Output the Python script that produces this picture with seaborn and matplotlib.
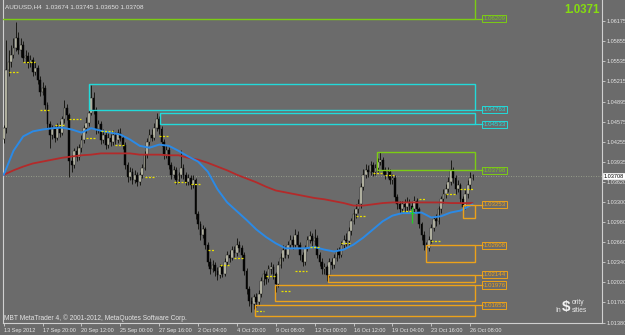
import matplotlib
matplotlib.use('Agg')
import matplotlib.pyplot as plt
from matplotlib.patches import Rectangle
import seaborn as sns
import numpy as np

sns.set_style('dark')
plt.rcParams['font.family'] = ['Liberation Sans', 'DejaVu Sans']

# ---------------- data ----------------
symbol_title = "AUDUSD,H4  1.03674 1.03745 1.03650 1.03708"
first_open = 1.0430
closes = [
    1.0447, 1.0540, 1.0553, 1.0564, 1.0575, 1.0591, 1.0572, 1.0580, 1.0559, 1.0562,
    1.0550, 1.0556, 1.0537, 1.0543, 1.0524, 1.0505, 1.0511, 1.0484, 1.0453, 1.0437,
    1.0445, 1.0432, 1.0447, 1.0440, 1.0461, 1.0479, 1.0468, 1.0395, 1.0389, 1.0411,
    1.0401, 1.0416, 1.0429, 1.0447, 1.0456, 1.0472, 1.0495, 1.0476, 1.0445, 1.0453,
    1.0429, 1.0437, 1.0421, 1.0432, 1.0425, 1.0437, 1.0429, 1.0440, 1.0432, 1.0421,
    1.0389, 1.0369, 1.0378, 1.0365, 1.0373, 1.0362, 1.0372, 1.0384, 1.0405, 1.0425,
    1.0437, 1.0432, 1.0447, 1.0461, 1.0445, 1.0425, 1.0405, 1.0413, 1.0389, 1.0373,
    1.0381, 1.0365, 1.0372, 1.0384, 1.0373, 1.0362, 1.0368, 1.0357, 1.0365, 1.0310,
    1.0294, 1.0278, 1.0286, 1.0262, 1.0235, 1.0223, 1.0230, 1.0220, 1.0213, 1.0226,
    1.0216, 1.0235, 1.0246, 1.0241, 1.0254, 1.0248, 1.0262, 1.0257, 1.0246, 1.0220,
    1.0191, 1.0172, 1.0167, 1.0178, 1.0170, 1.0183, 1.0204, 1.0215, 1.0207, 1.0223,
    1.0226, 1.0215, 1.0199, 1.0230, 1.0241, 1.0254, 1.0246, 1.0262, 1.0270, 1.0262,
    1.0278, 1.0262, 1.0246, 1.0235, 1.0257, 1.0270, 1.0276, 1.0267, 1.0273, 1.0246,
    1.0235, 1.0223, 1.0226, 1.0213, 1.0235, 1.0230, 1.0241, 1.0251, 1.0246, 1.0262,
    1.0270, 1.0267, 1.0283, 1.0299, 1.0310, 1.0318, 1.0326, 1.0353, 1.0373, 1.0381,
    1.0378, 1.0389, 1.0378, 1.0384, 1.0394, 1.0397, 1.0381, 1.0373, 1.0378, 1.0365,
    1.0368, 1.0337, 1.0326, 1.0318, 1.0326, 1.0321, 1.0329, 1.0323, 1.0318, 1.0331,
    1.0318, 1.0294, 1.0278, 1.0262, 1.0257, 1.0270, 1.0289, 1.0302, 1.0299, 1.0318,
    1.0334, 1.0342, 1.0350, 1.0362, 1.0381, 1.0368, 1.0350, 1.0357, 1.0334, 1.0321,
    1.0342, 1.0357, 1.03674, 1.03708,
]
highs = [
    1.0452, 1.0588, 1.0572, 1.0580, 1.0590, 1.0616, 1.0600, 1.0590, 1.0586, 1.0571,
    1.0568, 1.0563, 1.0560, 1.0552, 1.0548, 1.0530, 1.0520, 1.0515, 1.0488, 1.0458,
    1.0452, 1.0450, 1.0455, 1.0458, 1.0466, 1.0492, 1.0485, 1.0472, 1.0405, 1.0416,
    1.0418, 1.0422, 1.0436, 1.0452, 1.0465, 1.0480, 1.0516, 1.0505, 1.0480, 1.0460,
    1.0458, 1.0445, 1.0442, 1.0440, 1.0438, 1.0444, 1.0441, 1.0446, 1.0448, 1.0437,
    1.0425, 1.0394, 1.0386, 1.0383, 1.0380, 1.0378, 1.0378, 1.0390, 1.0411, 1.0432,
    1.0445, 1.0446, 1.0455, 1.0472, 1.0466, 1.0450, 1.0430, 1.0420, 1.0417, 1.0394,
    1.0387, 1.0385, 1.0378, 1.0412, 1.0390, 1.0378, 1.0375, 1.0372, 1.0372, 1.0368,
    1.0315, 1.0299, 1.0293, 1.0290, 1.0266, 1.0240, 1.0237, 1.0234, 1.0226, 1.0231,
    1.0230, 1.0240, 1.0252, 1.0253, 1.0260, 1.0260, 1.0272, 1.0268, 1.0262, 1.0250,
    1.0225, 1.0196, 1.0178, 1.0184, 1.0185, 1.0189, 1.0210, 1.0222, 1.0220, 1.0230,
    1.0234, 1.0231, 1.0219, 1.0236, 1.0248, 1.0262, 1.0260, 1.0268, 1.0278, 1.0275,
    1.0287, 1.0283, 1.0266, 1.0250, 1.0262, 1.0276, 1.0283, 1.0280, 1.0287, 1.0277,
    1.0250, 1.0240, 1.0232, 1.0230, 1.0240, 1.0241, 1.0247, 1.0257, 1.0258, 1.0268,
    1.0277, 1.0280, 1.0290, 1.0305, 1.0318, 1.0326, 1.0335, 1.0360, 1.0382, 1.0390,
    1.0388, 1.0395, 1.0394, 1.0390, 1.0400, 1.0410, 1.0402, 1.0386, 1.0385, 1.0382,
    1.0375, 1.0372, 1.0342, 1.0332, 1.0332, 1.0334, 1.0338, 1.0335, 1.0330, 1.0340,
    1.0336, 1.0322, 1.0298, 1.0283, 1.0266, 1.0276, 1.0295, 1.0308, 1.0310, 1.0324,
    1.0340, 1.0350, 1.0358, 1.0370, 1.0397, 1.0386, 1.0372, 1.0365, 1.0360, 1.0340,
    1.0348, 1.0365, 1.0378, 1.03745,
]
lows = [
    1.0424, 1.0440, 1.0530, 1.0545, 1.0558, 1.0570, 1.0565, 1.0560, 1.0552, 1.0550,
    1.0543, 1.0545, 1.0530, 1.0531, 1.0518, 1.0498, 1.0500, 1.0478, 1.0445, 1.0415,
    1.0430, 1.0425, 1.0428, 1.0433, 1.0436, 1.0455, 1.0460, 1.0370, 1.0378, 1.0384,
    1.0395, 1.0396, 1.0410, 1.0424, 1.0440, 1.0450, 1.0468, 1.0470, 1.0438, 1.0440,
    1.0422, 1.0424, 1.0414, 1.0416, 1.0418, 1.0420, 1.0422, 1.0424, 1.0426, 1.0414,
    1.0382, 1.0362, 1.0364, 1.0358, 1.0360, 1.0355, 1.0357, 1.0368, 1.0380, 1.0400,
    1.0420, 1.0426, 1.0428, 1.0442, 1.0438, 1.0418, 1.0398, 1.0400, 1.0382, 1.0366,
    1.0368, 1.0358, 1.0360, 1.0368, 1.0366, 1.0356, 1.0357, 1.0350, 1.0352, 1.0302,
    1.0286, 1.0270, 1.0272, 1.0255, 1.0228, 1.0216, 1.0218, 1.0212, 1.0206, 1.0209,
    1.0210, 1.0212, 1.0230, 1.0235, 1.0237, 1.0242, 1.0244, 1.0250, 1.0240, 1.0214,
    1.0184, 1.0165, 1.0154, 1.0160, 1.0163, 1.0166, 1.0178, 1.0198, 1.0200, 1.0203,
    1.0216, 1.0208, 1.0186, 1.0195, 1.0225, 1.0236, 1.0240, 1.0241, 1.0256, 1.0255,
    1.0258, 1.0256, 1.0238, 1.0228, 1.0230, 1.0252, 1.0264, 1.0260, 1.0262, 1.0240,
    1.0228, 1.0216, 1.0215, 1.0204, 1.0210, 1.0223, 1.0225, 1.0236, 1.0240, 1.0242,
    1.0256, 1.0260, 1.0262, 1.0278, 1.0294, 1.0305, 1.0312, 1.0320, 1.0348, 1.0368,
    1.0370, 1.0372, 1.0371, 1.0372, 1.0378, 1.0388, 1.0375, 1.0366, 1.0368, 1.0358,
    1.0358, 1.0330, 1.0318, 1.0312, 1.0313, 1.0315, 1.0316, 1.0317, 1.0311, 1.0314,
    1.0312, 1.0288, 1.0270, 1.0254, 1.0251, 1.0252, 1.0265, 1.0284, 1.0292, 1.0295,
    1.0312, 1.0328, 1.0336, 1.0345, 1.0356, 1.0360, 1.0342, 1.0345, 1.0328, 1.0312,
    1.0318, 1.0336, 1.0350, 1.03650,
]

ma_bars = [0, 4, 8, 12, 16, 20, 24, 28, 32, 36, 40, 44, 48, 52, 56, 60, 64, 68, 72, 76,
           80, 84, 88, 92, 96, 100, 104, 108, 112, 116, 120, 124, 128, 132, 136, 140,
           144, 148, 152, 156, 160, 164, 168, 172, 176, 180, 184, 188, 192, 193]
ma_fast = [1.0373, 1.0411, 1.0434, 1.0442, 1.0445, 1.0447, 1.0448, 1.0445, 1.0440, 1.0447,
           1.0443, 1.0440, 1.0437, 1.0429, 1.0419, 1.0416, 1.0421, 1.0419, 1.0411, 1.0402,
           1.0394, 1.0378, 1.0350, 1.0329, 1.0315, 1.0301, 1.0286, 1.0274, 1.0264, 1.0256,
           1.0256, 1.0256, 1.0258, 1.0254, 1.0251, 1.0254, 1.0262, 1.0273, 1.0286, 1.0299,
           1.0308, 1.0312, 1.0312, 1.0313, 1.0305, 1.0307, 1.0313, 1.0316, 1.0324, 1.0326]
ma_slow = [1.0373, 1.0380, 1.0386, 1.0391, 1.0394, 1.0397, 1.0400, 1.0402, 1.0404, 1.0405,
           1.0407, 1.0407, 1.0407, 1.0407, 1.0405, 1.0405, 1.0405, 1.0404, 1.0404, 1.0400,
           1.0397, 1.0392, 1.0386, 1.0380, 1.0373, 1.0367, 1.0361, 1.0354, 1.0348, 1.0345,
           1.0342, 1.0339, 1.0336, 1.0334, 1.0331, 1.0328, 1.0324, 1.0324, 1.0326, 1.0328,
           1.0329, 1.0329, 1.0329, 1.0329, 1.0329, 1.0329, 1.0328, 1.0328, 1.0328, 1.0328]

# pivot marks (yellow dashes): start bar, end bar, price
mark_start = [2, 8, 15, 21, 27, 34, 40, 46, 58, 64, 70, 77, 84, 89, 95, 104, 108, 114,
              120, 126, 139, 145, 152, 157, 164, 171, 176, 182, 188]
mark_end = [6, 13, 19, 25, 32, 38, 45, 50, 62, 68, 75, 81, 87, 93, 99, 107, 112, 118,
            125, 130, 143, 149, 156, 161, 168, 174, 180, 186, 193]
mark_price = [1.0537, 1.0553, 1.0476, 1.0452, 1.0461, 1.0432, 1.0443, 1.0421, 1.0370,
              1.0435, 1.0362, 1.0359, 1.0254, 1.0230, 1.0241, 1.0156, 1.0212, 1.0188,
              1.0220, 1.0258, 1.0264, 1.0307, 1.0376, 1.0373, 1.0315, 1.0334, 1.0267,
              1.0342, 1.0350]

# supply / demand zones
zone_start = [-5, 35.2, 64.4, 153.7, 189.1, 173.9, 133.5, 111.7, 103.5]
zone_level = [1.06209, 1.04763, 1.04533, 1.03798, 1.03253, 1.02608, 1.02144, 1.01976, 1.01653]
zone_far = [1.0700, 1.0517, 1.0472, 1.0410, 1.0305, 1.0235, 1.0202, 1.0173, 1.0148]
zone_kind = ['green', 'cyan', 'cyan', 'green', 'orange', 'orange', 'orange', 'orange', 'orange']
zone_end = 194.0

signal_bar = 168
signal_low, signal_high, signal_mid = 1.0297, 1.0322, 1.0312

bid_price = 1.03708
big_price_text = "1.0371"

date_ticks = [0, 16, 32, 48, 64, 80, 96, 112, 128, 144, 160, 176, 192]
date_labels = ["13 Sep 2012", "17 Sep 20:00", "20 Sep 12:00", "25 Sep 00:00", "27 Sep 16:00",
               "2 Oct 04:00", "4 Oct 20:00", "9 Oct 08:00", "12 Oct 00:00", "16 Oct 12:00",
               "19 Oct 04:00", "23 Oct 16:00", "26 Oct 08:00"]
price_ticks = [1.06175, 1.05855, 1.05535, 1.05215, 1.04895, 1.04575, 1.04255, 1.03935,
               1.03620, 1.03300, 1.02980, 1.02660, 1.02340, 1.02020, 1.01700, 1.01380]
footer = "MBT MetaTrader 4, \u00a9 2001-2012, MetaQuotes Software Corp."

# ---------------- style ----------------
BG = '#6b6b6b'
TXT = '#e4e4e4'
AX = '#d0d0d0'
COL = {'green': '#7ccc14', 'cyan': '#22dada', 'orange': '#eca21a'}
FS = 4.6
FS_AX = 4.0

fig = plt.figure(figsize=(6.25, 3.35), dpi=100, facecolor=BG)
ax = fig.add_axes([3 / 625, 12 / 335, 599 / 625, 323 / 335])
ax.set_facecolor(BG)
ax.set_xlim(-0.3, 246.3)
ax.set_ylim(1.01373, 1.06509)

# candles
o = np.array([first_open] + closes[:-1])
c = np.array(closes)
h = np.array(highs)
l = np.array(lows)
idx = np.arange(len(c))
up = c >= o
ax.vlines(idx, np.minimum(l, np.minimum(o, c)), np.maximum(h, np.maximum(o, c)),
          color='#141410', lw=0.65, zorder=3)
bb = np.minimum(o, c)
bh = np.maximum(np.abs(c - o), 0.00006)
ax.bar(idx[up], bh[up], bottom=bb[up], width=0.7, color='#d8d8c4',
       edgecolor='#141410', linewidth=0.3, zorder=3.5)
ax.bar(idx[~up], bh[~up], bottom=bb[~up], width=0.7, color='#050505',
       edgecolor='#050505', linewidth=0.3, zorder=3.5)

# bid line
ax.axhline(bid_price, color='#a4ac94', lw=0.6, ls=(0, (1, 2)), zorder=2)

# moving averages
sns.lineplot(x=ma_bars, y=ma_slow, ax=ax, color='#b42a2a', lw=1.3, zorder=4, legend=False)
sns.lineplot(x=ma_bars, y=ma_fast, ax=ax, color='#2b8ae6', lw=1.4, zorder=4.2, legend=False)

# pivot dashes
ax.hlines(mark_price, mark_start, mark_end, colors='#e8e000', lw=0.9,
          linestyles=(0, (1.6, 1.2)), zorder=4.5)

# signal
ax.vlines([signal_bar], signal_low, signal_high, colors='#22d022', lw=0.9, zorder=5)
ax.hlines([signal_mid], signal_bar - 0.8, signal_bar + 0.8, colors='#22d022', lw=0.9, zorder=5)

# zones
for x0, lev, far, kind in zip(zone_start, zone_level, zone_far, zone_kind):
    col = COL[kind]
    lo, hi = min(lev, far), max(lev, far)
    ax.add_patch(Rectangle((x0, lo), zone_end - x0, hi - lo, fill=False,
                           ec=col, lw=1.0, zorder=6))
    ax.hlines([lev], zone_end, 197.2, colors=col, lw=0.9, zorder=6)
    ax.text(197.4, lev, f"{lev:.5f}", fontsize=4.4, color=col, ha='left', va='center',
            zorder=7, bbox=dict(boxstyle='square,pad=0.18', fc='none', ec=col, lw=0.7))

# axes styling
ax.spines['top'].set_visible(False)
for s in ['left', 'right', 'bottom']:
    ax.spines[s].set_color(AX)
    ax.spines[s].set_linewidth(0.8)
ax.grid(False)
ax.yaxis.tick_right()
ax.set_yticks(price_ticks)
ax.set_yticklabels([f"{v:.5f}" for v in price_ticks])
ax.tick_params(axis='y', length=2.0, width=0.6, color=AX, pad=1.0,
               labelsize=FS_AX, labelcolor=TXT, left=False, right=True)
ax.set_xticks(date_ticks)
ax.set_xticklabels(date_labels)
for t in ax.get_xticklabels():
    t.set_ha('left')
ax.tick_params(axis='x', length=2.5, width=0.6, color=AX, pad=1.2,
               labelsize=FS_AX, labelcolor=TXT, bottom=True)

# current price box on the axis
ax.text(1.003, bid_price, f"{bid_price:.5f}", transform=ax.get_yaxis_transform(),
        fontsize=FS_AX, color='black', ha='left', va='center', zorder=10, clip_on=False,
        bbox=dict(boxstyle='square,pad=0.15', fc='white', ec='white', lw=0.5))

# texts
fig.text(5 / 625, 1 - 7 / 335, symbol_title, fontsize=FS, color=TXT, ha='left', va='center')
fig.text(600 / 625, 1 - 10 / 335, big_price_text, fontsize=8.3, color='#86dc10',
         fontweight='bold', ha='right', va='center')
fig.text(4 / 625, 1 - 318 / 335, footer, fontsize=4.8, color=TXT, ha='left', va='center')

# watermark logo
fig.text(566 / 625, 1 - 307 / 335, "$", fontsize=11, color='#f2f2f2', ha='center',
         va='center', fontweight='bold')
fig.text(572 / 625, 1 - 303 / 335, "ority", fontsize=4.8, color='#e8e8e8', ha='left',
         va='center')
fig.text(561 / 625, 1 - 310 / 335, "In", fontsize=4.8, color='#e8e8e8', ha='right',
         va='center')
fig.text(572 / 625, 1 - 310 / 335, "sities", fontsize=4.8, color='#e8e8e8', ha='left',
         va='center')

fig.savefig('out.png', dpi=100, facecolor=BG)
